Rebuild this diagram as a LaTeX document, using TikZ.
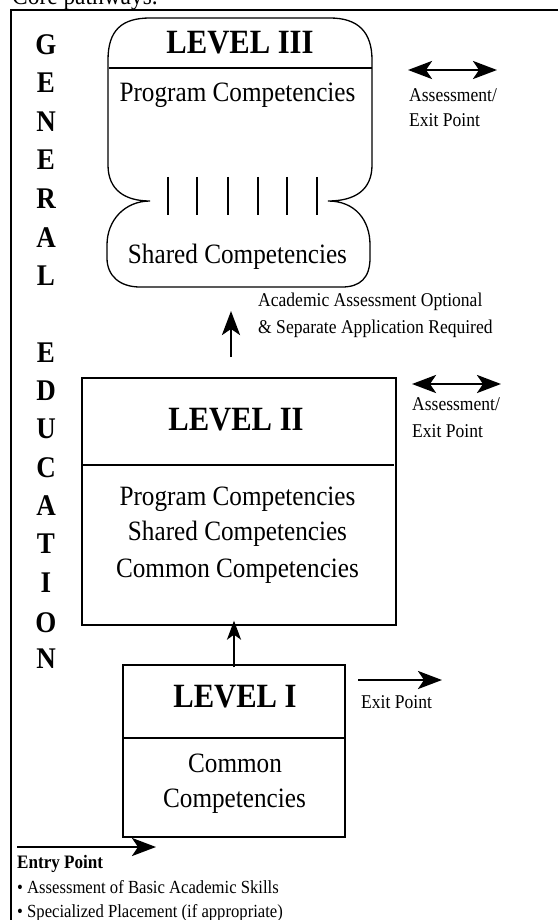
\documentclass[tikz,border=0pt]{standalone}
\usepackage{fontspec}
\setmainfont{Liberation Serif}[FakeStretch=0.9]
\usetikzlibrary{arrows.meta}
\tikzset{
  boxline/.style={line width=1.3pt},
  divline/.style={line width=1.7pt},
  bigtxt/.style={font=\fontsize{28}{30}\selectfont, inner sep=0pt, anchor=base},
  lvltxt/.style={font=\fontsize{34}{36}\selectfont\bfseries, inner sep=0pt, anchor=base},
  gentxt/.style={font=\fontsize{30}{32}\selectfont\bfseries, inner sep=0pt, anchor=base},
  smalltxt/.style={font=\fontsize{19.5}{21}\selectfont, inner sep=0pt, anchor=base west},
  notetxt/.style={font=\fontsize{18.5}{20}\selectfont, inner sep=0pt, anchor=base west},
  tip/.style={},
  arr/.style={line width=2.8pt, -{Stealth[length=24pt,width=18pt,inset=6pt]}},
  darr/.style={line width=2.8pt, {Stealth[length=24pt,width=18pt,inset=6pt]}-{Stealth[length=24pt,width=18pt,inset=6pt]}},
  bar/.style={line width=1.6pt},
}
\begin{document}
\begin{tikzpicture}[x=1pt,y=-1pt]
\useasboundingbox (0,0) rectangle (557,920);
% clipped caption at top
\node[font=\fontsize{26}{28}\selectfont, inner sep=0pt, anchor=base west] (cap) at (12,4.5) {Core pathways.};
% frame
\draw[line width=1.5pt] (11,925) -- (11,10) -- (560,10);
% GENERAL EDUCATION letters
\foreach \ch/\yy [count=\i] in {G/55,E/93,N/132,E/170,R/208,A/247,L/285,E/362,D/400,U/438,C/477,A/515,T/553,I/592,O/632,N/668}
  \node[gentxt] (g\i) at (46,\yy) {\ch};
% LEVEL III shape
\draw[boxline] (108,165) -- (108,60) .. controls (108,30) and (122,18) .. (150,18)
  -- (330,18) .. controls (358,18) and (372,32) .. (372,60)
  -- (372,165) .. controls (372,190) and (355,201) .. (328,201)
  .. controls (355,201) and (370,220) .. (370,245)
  -- (370,258) .. controls (370,278) and (360,287) .. (342,287)
  -- (140,287) .. controls (120,287) and (107,276) .. (107,258)
  -- (107,245) .. controls (107,220) and (125,201) .. (150,201)
  .. controls (125,201) and (108,190) .. (108,165);
\coordinate (l3w) at (109,68);
\coordinate (l3e) at (372,68);
\draw[divline] (l3w) -- (l3e);
\node[lvltxt] (l3t) at (240,54) {LEVEL III};
\node[bigtxt] (l3p) at (237.5,102) {Program Competencies};
\node[bigtxt] (l3s) at (237.5,263) {Shared Competencies};
\foreach \xx [count=\i] in {168,197,228,258,287,317}
  \draw[bar] (\xx,177) coordinate (bt\i) -- (\xx,215) coordinate (bb\i);
% assessment arrow 1
\coordinate (d1a) at (408,70);
\coordinate (d1b) at (497,70);
\draw[darr] (d1a) -- (d1b);
\node[smalltxt] (as1) at (409,102) {Assessment/};
\node[smalltxt] (ex1) at (409,127) {Exit Point};
% academic note and arrow
\node[smalltxt] (ac1) at (258,306) {Academic Assessment Optional};
\node[smalltxt] (ac2) at (258,333) {\& Separate Application Required};
\coordinate (u1a) at (231,357);
\coordinate (u1b) at (231,311);
\draw[arr] (u1a) -- (u1b);
% LEVEL II box
\node[draw, boxline, minimum width=314pt, minimum height=247pt, inner sep=0pt] (L2) at (239,501.5) {};
\coordinate (l2w) at (82,465);
\coordinate (l2e) at (394,465);
\draw[divline] (l2w) -- (l2e);
\node[lvltxt] (l2t) at (236,430) {LEVEL II};
\node[bigtxt] (l2p) at (237.5,505) {Program Competencies};
\node[bigtxt] (l2s) at (237.5,540) {Shared Competencies};
\node[bigtxt] (l2c) at (237.5,577) {Common Competencies};
% assessment arrow 2
\coordinate (d2a) at (412,384);
\coordinate (d2b) at (501,384);
\draw[darr] (d2a) -- (d2b);
\node[smalltxt] (as2) at (412,410) {Assessment/};
\node[smalltxt] (ex2) at (412,437) {Exit Point};
% LEVEL I box
\node[draw, boxline, minimum width=222pt, minimum height=172pt, inner sep=0pt] (L1) at (234,751) {};
\coordinate (l1w) at (123,738);
\coordinate (l1e) at (346,738);
\draw[divline] (l1w) -- (l1e);
\node[lvltxt] (l1t) at (235,707) {LEVEL I};
\node[bigtxt] (l1c) at (235,772) {Common};
\node[bigtxt] (l1k) at (234.5,807) {Competencies};
% arrow L1 -> L2
\draw[line width=2.4pt, -{Stealth[length=19pt,width=14pt,inset=5pt]}] ([yshift=-3pt]L1.north) -- ([yshift=5pt]L1.north |- L2.south);
% exit arrow
\coordinate (e1a) at (358,680);
\coordinate (e1b) at (442,680);
\draw[arr] (e1a) -- (e1b);
\node[smalltxt] (ex3) at (361,708) {Exit Point};
% entry arrow
\coordinate (n1a) at (17,847);
\coordinate (n1b) at (156,847);
\draw[arr] (n1a) -- (n1b);
\node[notetxt, font=\fontsize{19}{20}\selectfont\bfseries] (ent) at (17,868) {Entry Point};
\node[notetxt] (b1) at (17,893) {• Assessment of Basic Academic Skills};
\node[notetxt] (b2) at (17,917) {• Specialized Placement (if appropriate)};
\end{tikzpicture}
\end{document}
